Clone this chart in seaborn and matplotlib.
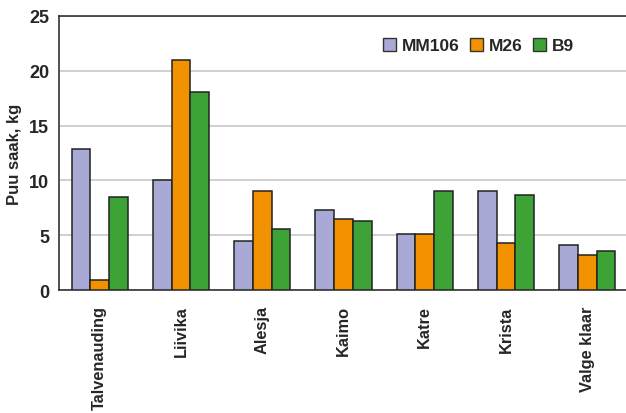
import numpy as np
import pandas as pd
import matplotlib
matplotlib.use('Agg')
import matplotlib.pyplot as plt
import seaborn as sns
from matplotlib.patches import Patch

# data
sordid = ['Talvenauding', 'Liivika', 'Alesja', 'Kaimo', 'Katre', 'Krista', 'Valge klaar']
mm106 = [12.9, 10.0, 4.5, 7.3, 5.1, 9.0, 4.1]
m26 = [0.9, 21.0, 9.0, 6.5, 5.1, 4.3, 3.2]
b9 = [8.5, 18.1, 5.6, 6.3, 9.0, 8.7, 3.6]
series = ['MM106', 'M26', 'B9']
colors = ['#A9A9D6', '#F39200', '#3DA336']

df = pd.DataFrame({'sort': sordid * 3,
                   'pohialus': np.repeat(series, len(sordid)),
                   'saak': mm106 + m26 + b9})

sns.set_style('white')
plt.rcParams['font.family'] = ['Liberation Sans', 'DejaVu Sans']
plt.rcParams['font.weight'] = 'bold'

fig = plt.figure(figsize=(6.26, 4.14), dpi=100)
ax = fig.add_axes([0.0942, 0.297, 0.909, 0.662])

sns.barplot(data=df, x='sort', y='saak', hue='pohialus', hue_order=series,
            palette=colors, width=0.69, gap=0, edgecolor='#222222',
            linewidth=1.1, saturation=1, legend=False, ax=ax, zorder=3)

ax.set_ylim(0, 25)
ax.set_xlim(-0.5, len(sordid) - 0.5)
ax.set_yticks(range(0, 26, 5))
ax.yaxis.grid(True, color='#C8C8C8', linewidth=1.2, zorder=0)
ax.set_axisbelow(True)

# ticks between categories, labels at centres
ax.set_xticks(np.arange(len(sordid)))
ax.set_xticklabels(sordid, rotation=90, fontsize=11.8, fontweight='bold')
ax.set_xticks(np.arange(len(sordid) + 1) - 0.5, minor=True)
ax.tick_params(axis='x', which='major', length=0, pad=11)
ax.tick_params(axis='x', which='minor', length=4, width=1, color='#333333', direction='out')
ax.tick_params(axis='y', length=4, width=1, color='#333333', direction='out', pad=3,
               labelsize=13)
for lab in ax.get_yticklabels():
    lab.set_fontweight('bold')

for side in ['left', 'bottom', 'top']:
    ax.spines[side].set_color('#333333')
    ax.spines[side].set_linewidth(1.2)
ax.spines['right'].set_visible(False)

ax.set_xlabel('')
ax.set_ylabel('Puu saak, kg', fontsize=12, fontweight='bold', labelpad=5)

handles = [Patch(facecolor=c, edgecolor='#333333', label=s) for c, s in zip(colors, series)]
ax.legend(handles=handles, loc='upper left', bbox_to_anchor=(0.569, 0.92), ncol=3,
          frameon=False, borderpad=0, borderaxespad=0,
          handlelength=0.75, handleheight=0.75, handletextpad=0.35,
          columnspacing=0.6, prop={'weight': 'bold', 'size': 12.5})

plt.savefig('out.png', dpi=100)
